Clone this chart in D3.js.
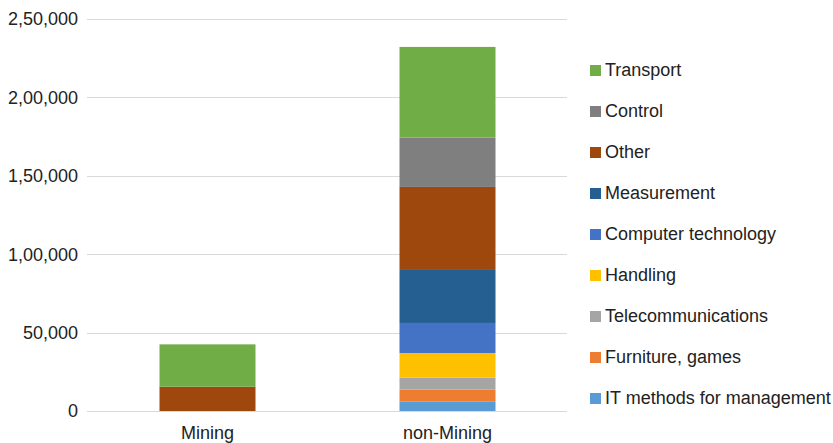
<!DOCTYPE html>
<html><head><meta charset="utf-8">
<script src="https://cdn.jsdelivr.net/npm/d3@7"></script>
<style>body{margin:0;background:#fff}svg{display:block}text{font-family:"Liberation Sans",Arial,sans-serif}</style>
</head><body>
<script>
const categories = ["Mining", "non-Mining"];
const seriesNames = ["IT methods for management","Furniture, games","Telecommunications","Handling","Computer technology","Measurement","Other","Control","Transport"];
const seriesColors = ["#5B9BD5","#ED7D31","#A5A5A5","#FFC000","#4472C4","#255E91","#9E480E","#7F7F7F","#70AD47"];
const miningValues    = [0, 0, 0, 0, 0, 0, 15500, 0, 27000];
const nonMiningValues = [5900, 7700, 7650, 15750, 19150, 33800, 52950, 31450, 57850];
const yTicks = [0, 50000, 100000, 150000, 200000, 250000];
const yTickLabels = ["0","50,000","1,00,000","1,50,000","2,00,000","2,50,000"];

const W = 833, H = 443;
const svg = d3.select("body").append("svg").attr("width", W).attr("height", H);

const rows = categories.map((c, i) => {
  const r = {cat: c};
  const vals = i === 0 ? miningValues : nonMiningValues;
  seriesNames.forEach((s, j) => r[s] = vals[j]);
  return r;
});
const stacked = d3.stack().keys(seriesNames)(rows);

const x = d3.scaleBand().domain(categories).range([87.5, 567.5]).paddingInner(0.6).paddingOuter(0.3);
const y = d3.scaleLinear().domain([0, 250000]).range([411, 19]);

// gridlines
svg.append("g").selectAll("line").data(yTicks).join("line")
  .attr("x1", 87).attr("x2", 567)
  .attr("y1", d => Math.round(y(d)) + 0.5).attr("y2", d => Math.round(y(d)) + 0.5)
  .attr("stroke", "#d9d9d9").attr("stroke-width", 1);

// y labels
svg.append("g").selectAll("text").data(yTicks).join("text")
  .attr("x", 78).attr("y", d => y(d)).attr("dy", "0.35em")
  .attr("text-anchor", "end").attr("font-size", 18).attr("fill", "#222")
  .text((d, i) => yTickLabels[i]);

// bars
const color = d3.scaleOrdinal().domain(seriesNames).range(seriesColors);
svg.append("g").selectAll("g").data(stacked).join("g")
  .attr("fill", d => color(d.key))
  .selectAll("rect").data(d => d.filter(p => p[1] - p[0] > 0)).join("rect")
  .attr("x", d => x(d.data.cat)).attr("width", x.bandwidth())
  .attr("y", d => y(d[1])).attr("height", d => y(d[0]) - y(d[1]));

// x labels
svg.append("g").selectAll("text").data(categories).join("text")
  .attr("x", d => x(d) + x.bandwidth() / 2).attr("y", 439)
  .attr("text-anchor", "middle").attr("font-size", 18).attr("fill", "#222")
  .text(d => d);

// legend (reverse order, top = Transport)
const legendItems = seriesNames.slice().reverse();
const lg = svg.append("g").selectAll("g").data(legendItems).join("g")
  .attr("transform", (d, i) => `translate(590, ${70 + i * 41})`);
lg.append("rect").attr("x", 0).attr("y", -5).attr("width", 11).attr("height", 11).attr("fill", d => color(d));
lg.append("text").attr("x", 15).attr("y", 0).attr("dy", "0.35em")
  .attr("font-size", 18).attr("fill", "#222").text(d => d);
</script>
</body></html>
